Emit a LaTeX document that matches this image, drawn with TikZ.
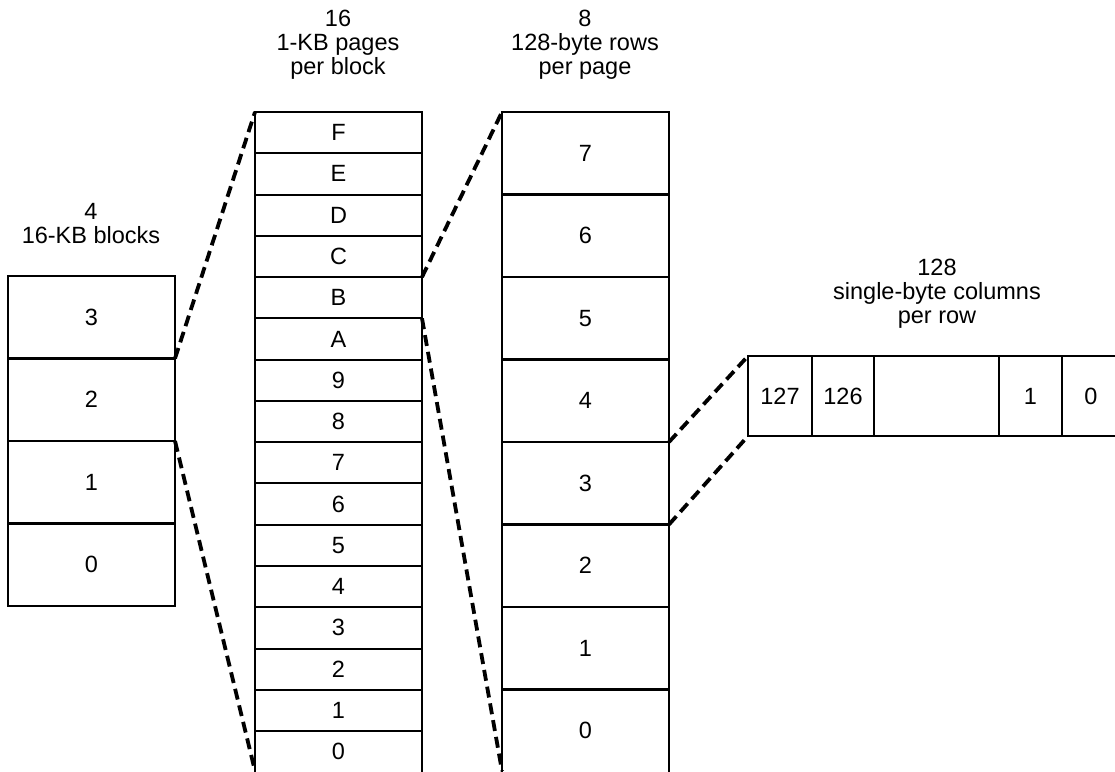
\documentclass[tikz,border=0pt]{standalone}
\usepackage{fontspec}
\setmainfont{Liberation Sans}
\begin{document}
\begin{tikzpicture}[x=1pt,y=-1pt,
  font=\fontsize{23.5}{24}\selectfont,
  cell/.style={draw, line width=2.8pt, inner sep=0pt, outer sep=0pt, anchor=north west, minimum width=167pt},
  blockcell/.style={cell, minimum height=82.5pt},
  pagecell/.style={cell, line width=2pt, minimum height=41.27pt},
  rowcell/.style={cell, minimum height=82.5pt},
  bytecell/.style={cell, minimum height=80pt},
  zoomline/.style={dashed, line width=3.8pt, dash pattern=on 11pt off 6pt},
  lbl/.style={align=center, inner sep=0pt}
]
\useasboundingbox (0,0) rectangle (1115,771);
\clip (0,0) rectangle (1115,771);

% block column
\node[blockcell] (b3) at (8,276) {3};
\node[blockcell] (b2) at (b3.south west) {2};
\node[blockcell] (b1) at (b2.south west) {1};
\node[blockcell] (b0) at (b1.south west) {0};

% page column
\node[pagecell] (pF) at (255,112) {F};
\node[pagecell] (pE) at (pF.south west) {E};
\node[pagecell] (pD) at (pE.south west) {D};
\node[pagecell] (pC) at (pD.south west) {C};
\node[pagecell] (pB) at (pC.south west) {B};
\node[pagecell] (pA) at (pB.south west) {A};
\node[pagecell] (p9) at (pA.south west) {9};
\node[pagecell] (p8) at (p9.south west) {8};
\node[pagecell] (p7) at (p8.south west) {7};
\node[pagecell] (p6) at (p7.south west) {6};
\node[pagecell] (p5) at (p6.south west) {5};
\node[pagecell] (p4) at (p5.south west) {4};
\node[pagecell] (p3) at (p4.south west) {3};
\node[pagecell] (p2) at (p3.south west) {2};
\node[pagecell] (p1) at (p2.south west) {1};
\node[pagecell, minimum height=60pt] (p0) at (p1.south west) {};
\node (p0t) at ([yshift=-20.6pt]p1.south) {0};

% row column
\node[rowcell] (r7) at (502,112) {7};
\node[rowcell] (r6) at (r7.south west) {6};
\node[rowcell] (r5) at (r6.south west) {5};
\node[rowcell] (r4) at (r5.south west) {4};
\node[rowcell] (r3) at (r4.south west) {3};
\node[rowcell] (r2) at (r3.south west) {2};
\node[rowcell] (r1) at (r2.south west) {1};
\node[rowcell, minimum height=100pt] (r0) at (r1.south west) {};
\node (r0t) at ([yshift=-41.25pt]r1.south) {0};

% byte row
\node[bytecell, minimum width=64pt] (c127) at (748,356) {127};
\node[bytecell, minimum width=62pt] (c126) at (c127.north east) {126};
\node[bytecell, minimum width=125pt] (cdots) at (c126.north east) {};
\node[bytecell, minimum width=63pt] (c1) at (cdots.north east) {1};
\node[bytecell, minimum width=90pt] (c0) at (c1.north east) {};
\node (c0t) at ([xshift=29pt]c1.east) {0};

% open ends
\coordinate (pbot) at (255,771);
\coordinate (rbot) at (502,771);

% dashed zoom connectors
\draw[zoomline] (b3.south east) -- (pF.north west);
\draw[zoomline] (b2.south east) -- (pbot);
\draw[zoomline] (pB.north east) -- (r7.north west);
\draw[zoomline] (pB.south east) -- (rbot);
\draw[zoomline] (r4.south east) -- (c127.north west);
\draw[zoomline] (r3.south east) -- (c127.south west);

% labels
\node[lbl] (lb) at (91,224) {4\\16-KB blocks};
\node[lbl] (lp) at (338,45) {16\\1-KB pages\\per block};
\node[lbl] (lr) at (585,45) {8\\128-byte rows\\per page};
\node[lbl] (lc) at (937,294) {128\\single-byte columns\\per row};
\end{tikzpicture}
\end{document}
